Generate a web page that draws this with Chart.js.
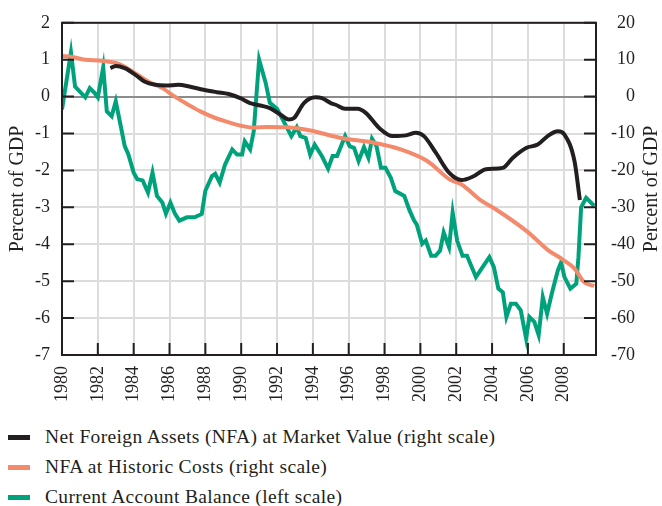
<!DOCTYPE html>
<html>
<head>
<meta charset="utf-8">
<script src="https://cdn.jsdelivr.net/npm/chart.js@4"></script>
<style>
  body { margin: 0; background: #fff; font-family: "Liberation Serif", serif; }
  #wrap { position: relative; width: 662px; height: 506px; }
  #chartBox { position: absolute; left: 0; top: 0; width: 662px; height: 420px; }
  .leg { position: absolute; left: 0; height: 24px; line-height: 24px; font-size: 19.5px; letter-spacing: 0.35px; color: #231f20; white-space: nowrap; }
  .leg span.sw { position: absolute; left: 8px; top: 10px; width: 22px; height: 5px; }
  .leg span.tx { position: absolute; left: 45px; top: 0; }
</style>
</head>
<body>
<div id="wrap">
  <div id="chartBox"><canvas id="chart"></canvas></div>
  <div id="legend"></div>
</div>
<script>
// Current account balance, percent of GDP (left scale)
const caYears = [1980.0,1980.5,1980.73,1981.3,1981.55,1981.8,1982.0,1982.3,1982.5,1982.77,1983.0,1983.3,1983.5,1983.7,1984.0,1984.2,1984.5,1984.8,1985.05,1985.3,1985.6,1985.8,1986.05,1986.3,1986.55,1986.97,1987.4,1987.8,1988.0,1988.37,1988.55,1988.8,1989.1,1989.5,1989.77,1990.05,1990.2,1990.5,1990.7,1991.0,1991.37,1991.6,1992.0,1992.37,1992.8,1993.1,1993.3,1993.6,1993.85,1994.1,1994.5,1994.85,1995.1,1995.35,1995.8,1996.05,1996.3,1996.55,1996.85,1997.1,1997.3,1997.55,1997.8,1998.05,1998.35,1998.6,1999.1,1999.4,1999.65,1999.8,2000.1,2000.3,2000.6,2000.85,2001.1,2001.3,2001.6,2001.8,2002.05,2002.35,2002.6,2003.1,2003.47,2003.85,2004.1,2004.35,2004.6,2004.8,2005.05,2005.33,2005.6,2005.9,2006.08,2006.36,2006.6,2006.83,2007.07,2007.33,2007.67,2007.85,2008.04,2008.37,2008.7,2008.82,2008.97,2009.25,2009.7];
const caValues = [-0.35,1.2,0.27,-0.02,0.23,0.11,-0.02,0.8,-0.4,-0.53,-0.13,-0.85,-1.34,-1.56,-2.06,-2.24,-2.27,-2.6,-2.06,-2.69,-2.87,-3.17,-2.87,-3.17,-3.36,-3.27,-3.27,-3.18,-2.55,-2.15,-2.09,-2.33,-1.84,-1.43,-1.57,-1.57,-1.21,-1.43,-0.94,1.0,0.36,-0.17,-0.33,-0.67,-1.07,-0.83,-1.07,-1.12,-1.57,-1.3,-1.61,-1.95,-1.61,-1.61,-1.07,-1.34,-1.39,-1.75,-1.37,-1.66,-1.14,-1.34,-1.93,-1.93,-2.2,-2.56,-2.69,-3.09,-3.36,-3.47,-3.99,-3.9,-4.31,-4.31,-4.17,-3.68,-4.08,-3.14,-3.9,-4.31,-4.31,-4.89,-4.62,-4.35,-4.62,-5.2,-5.3,-5.97,-5.61,-5.61,-5.79,-6.55,-5.97,-6.1,-6.46,-5.43,-5.88,-5.34,-4.71,-4.49,-4.89,-5.2,-5.07,-4.35,-3.0,-2.74,-2.96];

// NFA at market value, percent of GDP (right scale)
const nfaMarketYears = [1982.7,1983.0,1983.5,1984.1,1984.6,1985.2,1985.8,1986.5,1987.1,1987.9,1988.65,1989.3,1989.95,1990.5,1991.07,1991.6,1992.2,1992.65,1992.95,1993.5,1994.15,1994.5,1995.0,1995.27,1995.8,1996.5,1996.95,1997.7,1998.45,1999.2,1999.75,2000.2,2000.86,2001.6,2002.3,2003.0,2003.65,2004.6,2005.15,2005.9,2006.55,2007.1,2007.67,2008.04,2008.6,2008.9];
const nfaMarketValues = [7.7,8.3,7.7,5.9,4.1,3.2,3.0,3.2,2.75,1.85,1.2,0.7,-0.4,-1.75,-2.4,-3.1,-4.9,-6.2,-5.8,-1.75,-0.2,-0.4,-1.75,-2.2,-3.3,-3.3,-4.4,-8.5,-10.7,-10.5,-9.8,-10.7,-15.2,-20.6,-22.6,-21.5,-19.7,-19.3,-16.6,-13.9,-13.0,-10.7,-9.4,-10.3,-17.5,-28];

// NFA at historic costs, percent of GDP (right scale)
const nfaHistYears = [1980.0,1980.5,1981.3,1982.2,1983.0,1983.5,1984.1,1984.8,1985.6,1986.3,1987.05,1987.72,1988.8,1990.7,1991.45,1992.57,1993.87,1995.55,1997.4,1998.9,2000.4,2001.65,2002.3,2003.4,2004.2,2006.0,2007.1,2007.9,2008.6,2009.15,2009.7];
const nfaHistValues = [11.0,10.8,10.0,9.7,9.1,8.1,6.3,4.1,2.3,0.0,-2.2,-4.0,-6.2,-8.4,-8.2,-8.3,-9.2,-11.2,-12.5,-14.3,-17.5,-22.5,-23.8,-28.2,-30.5,-36.7,-41.5,-44.0,-46.6,-50.3,-51.3];

const seriesNames = [
  'Net Foreign Assets (NFA) at Market Value (right scale)',
  'NFA at Historic Costs (right scale)',
  'Current Account Balance (left scale)'
];
const seriesColors = ['#231f20', '#f48a6c', '#00a27c'];

const leftTicks = [2, 1, 0, -1, -2, -3, -4, -5, -6, -7];
const rightTicks = [20, 10, 0, -10, -20, -30, -40, -50, -60, -70];
const yearTicks = [1980,1982,1984,1986,1988,1990,1992,1994,1996,1998,2000,2002,2004,2006,2008];

function toPoints(xs, ys) {
  return xs.map((x, i) => ({ x: x, y: ys[i] }));
}

const serif = '"Liberation Serif", serif';
const ink = '#231f20';

// inward tick marks, frame and the right-hand title
const framePlugin = {
  id: 'frame',
  afterDatasetsDraw(chart) {
    const { ctx, chartArea: a, scales } = chart;
    ctx.save();
    ctx.strokeStyle = ink;
    ctx.lineWidth = 2;
    ctx.beginPath();
    leftTicks.forEach(v => {
      const py = scales.y.getPixelForValue(v);
      ctx.moveTo(a.left, py); ctx.lineTo(a.left + 12, py);
    });
    rightTicks.forEach(v => {
      const py = scales.y1.getPixelForValue(v);
      ctx.moveTo(a.right - 12, py); ctx.lineTo(a.right, py);
    });
    yearTicks.forEach(v => {
      const px = scales.x.getPixelForValue(v);
      ctx.moveTo(px, a.bottom - 12); ctx.lineTo(px, a.bottom);
    });
    ctx.stroke();
    ctx.strokeRect(a.left, a.top, a.right - a.left, a.bottom - a.top);

    ctx.fillStyle = ink;
    ctx.font = '20px ' + serif;
    ctx.textAlign = 'center';
    ctx.textBaseline = 'middle';
    ctx.translate(652, (a.top + a.bottom) / 2);
    ctx.rotate(-Math.PI / 2);
    ctx.fillText('Percent of GDP', 0, 0);
    ctx.restore();
  }
};

const ctx = document.getElementById('chart').getContext('2d');
new Chart(ctx, {
  type: 'line',
  data: {
    datasets: [
      {
        label: seriesNames[0],
        data: toPoints(nfaMarketYears, nfaMarketValues),
        yAxisID: 'y1',
        borderColor: seriesColors[0],
        borderWidth: 4,
        pointRadius: 0,
        cubicInterpolationMode: 'monotone'
      },
      {
        label: seriesNames[1],
        data: toPoints(nfaHistYears, nfaHistValues),
        yAxisID: 'y1',
        borderColor: seriesColors[1],
        borderWidth: 4,
        pointRadius: 0,
        cubicInterpolationMode: 'monotone'
      },
      {
        label: seriesNames[2],
        data: toPoints(caYears, caValues),
        yAxisID: 'y',
        borderColor: seriesColors[2],
        borderWidth: 4,
        pointRadius: 0,
        tension: 0,
        borderJoinStyle: 'miter'
      }
    ]
  },
  options: {
    responsive: true,
    maintainAspectRatio: false,
    animation: false,
    layout: { padding: { top: 21, left: 0, right: 27, bottom: 0 } },
    plugins: { legend: { display: false }, tooltip: { enabled: false } },
    scales: {
      x: {
        type: 'linear',
        min: 1980,
        max: 2009.8,
        afterFit: s => { s.height = 65; },
        afterBuildTicks: s => { s.ticks = yearTicks.map(v => ({ value: v })); },
        ticks: {
          callback: v => String(v),
          maxRotation: 90,
          minRotation: 90,
          padding: 11,
          autoSkip: false,
          color: ink,
          font: { family: serif, size: 18 }
        },
        grid: { color: '#dcdcdc', lineWidth: 2, drawTicks: false },
        border: { display: false }
      },
      y: {
        position: 'left',
        min: -7,
        max: 2,
        afterFit: s => { s.width = 62; },
        afterBuildTicks: s => { s.ticks = leftTicks.map(v => ({ value: v })); },
        ticks: {
          padding: 12,
          color: ink,
          font: { family: serif, size: 18 }
        },
        grid: {
          color: c => (c.tick && c.tick.value === 0 ? '#8c8c8c' : '#dcdcdc'),
          lineWidth: 2,
          drawTicks: false
        },
        border: { display: false },
        title: {
          display: true,
          text: 'Percent of GDP',
          color: ink,
          font: { family: serif, size: 20 },
          padding: { top: 6, bottom: 0 }
        }
      },
      y1: {
        position: 'right',
        min: -70,
        max: 20,
        afterFit: s => { s.width = 39; },
        afterBuildTicks: s => { s.ticks = rightTicks.map(v => ({ value: v })); },
        ticks: {
          padding: 12,
          crossAlign: 'far',
          color: ink,
          font: { family: serif, size: 18 }
        },
        grid: { display: false, drawTicks: false },
        border: { display: false }
      }
    }
  },
  plugins: [framePlugin]
});

// legend below the chart
const legend = document.getElementById('legend');
seriesNames.forEach((name, i) => {
  const row = document.createElement('div');
  row.className = 'leg';
  row.style.top = (425 + i * 30) + 'px';
  const sw = document.createElement('span');
  sw.className = 'sw';
  sw.style.background = seriesColors[i];
  const tx = document.createElement('span');
  tx.className = 'tx';
  tx.textContent = name;
  row.appendChild(sw);
  row.appendChild(tx);
  legend.appendChild(row);
});
</script>
</body>
</html>
